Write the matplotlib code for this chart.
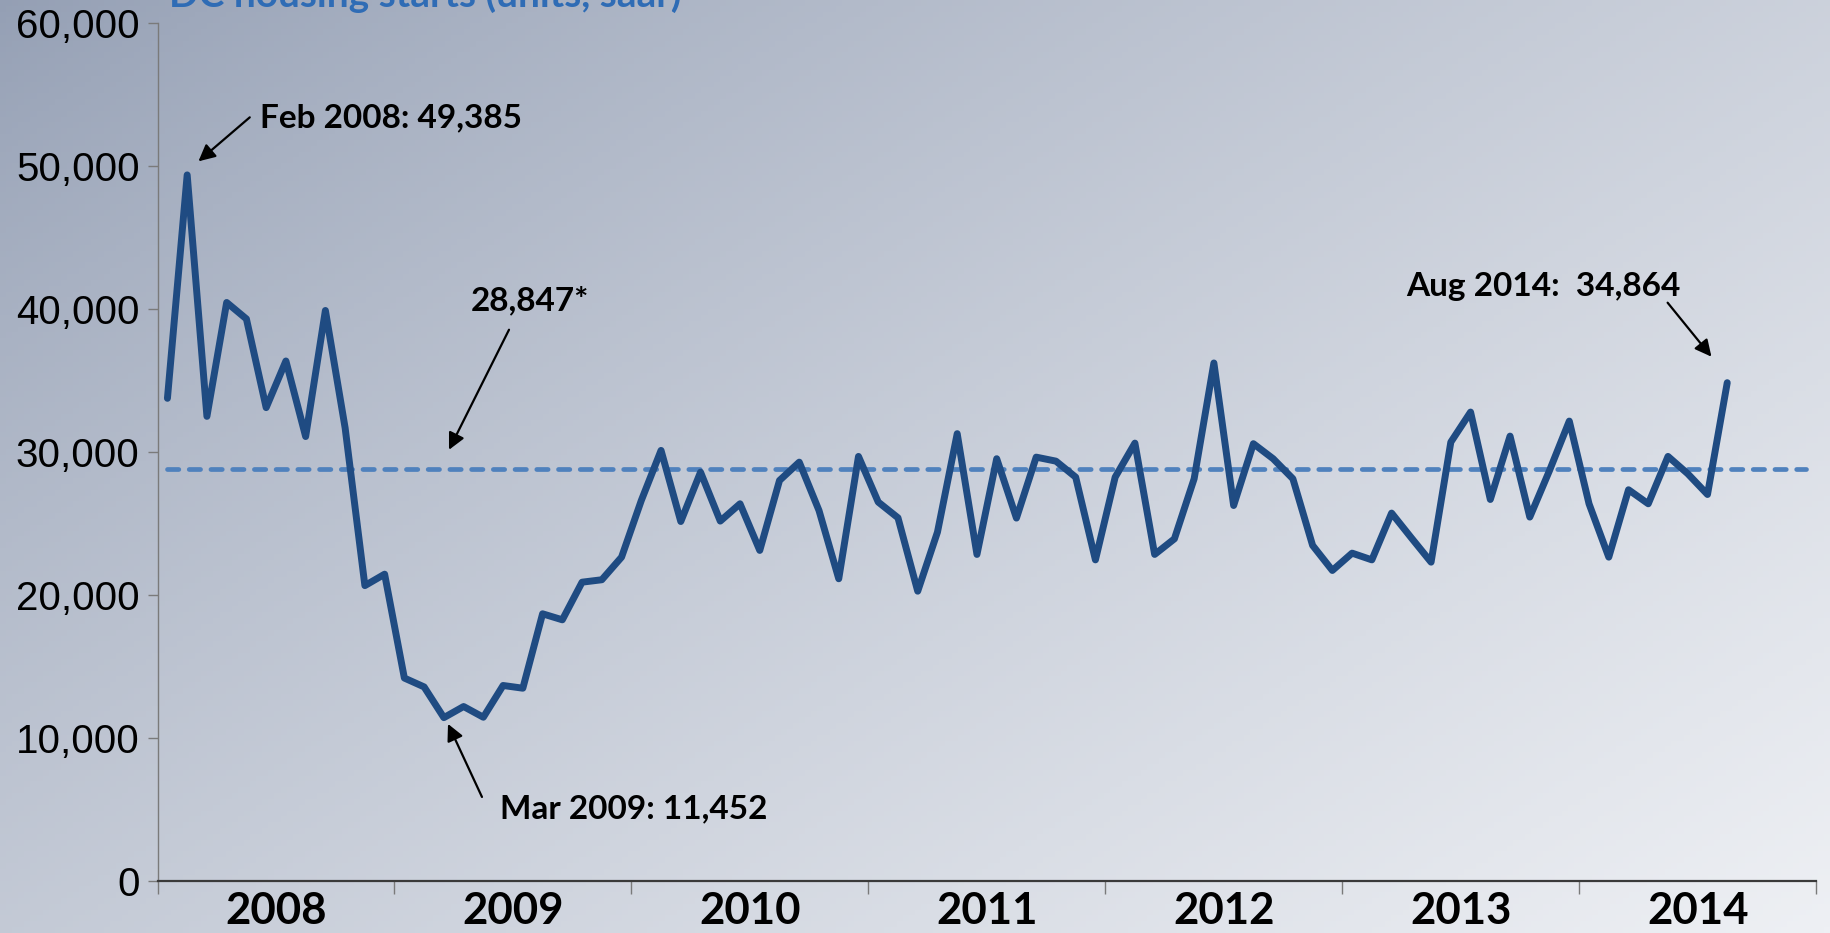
import matplotlib
matplotlib.use("Agg")
import matplotlib.pyplot as plt
import matplotlib.ticker as mticker
import numpy as np

# ── data ────────────────────────────────────────────────
years = ["2008", "2009", "2010", "2011", "2012", "2013", "2014"]

# DC housing starts, monthly Jan 2008 - Aug 2014 (units, saar)
starts = [
    33770, 49385, 32510, 40470, 39320, 33120, 36380, 31100, 39910, 31700, 20680, 21480,  # 2008
    14220, 13600, 11452, 12230, 11480, 13700, 13510, 18710, 18290, 20920, 21090, 22670,  # 2009
    26630, 30130, 25160, 28610, 25190, 26400, 23140, 28030, 29310, 25930, 21160, 29710,  # 2010
    26520, 25420, 20290, 24420, 31300, 22860, 29550, 25400, 29660, 29380, 28260, 22480,  # 2011
    28260, 30640, 22860, 23950, 28150, 36240, 26280, 30600, 29550, 28150, 23490, 21740,  # 2012
    22950, 22480, 25750, 24020, 22320, 30710, 32810, 26700, 31130, 25470, 28730, 32180,  # 2013
    26400, 22670, 27380, 26400, 29710, 28500, 27050, 34864,                              # 2014
]
avg_level = 28847
n_slots = 12 * len(years)   # category slots, Jan 2008 - Dec 2014

yticks = [0, 10000, 20000, 30000, 40000, 50000, 60000]

LINE_COLOR = "#1F4B82"
AVG_COLOR = "#4F81BD"
TITLE_COLOR = "#2F6CB5"

# ── figure + gradient background ──────────────────────────
fig = plt.figure(figsize=(18.3, 9.33), dpi=100)

bg = fig.add_axes([0, 0, 1, 1], zorder=0)
gx, gy = np.meshgrid(np.linspace(0, 1, 300), np.linspace(0, 1, 160))
t = np.clip(0.55 * gx + 0.45 * gy, 0, 1) ** 0.8
c0 = np.array([148, 159, 180]) / 255
c1 = np.array([238, 240, 244]) / 255
img = c0[None, None, :] * (1 - t[..., None]) + c1[None, None, :] * t[..., None]
bg.imshow(img, aspect="auto", extent=[0, 1, 0, 1], origin="upper")
bg.set_axis_off()

ax = fig.add_axes([0.0861, 0.0552, 0.9063, 0.9201], zorder=1)
ax.patch.set_alpha(0)

x = np.arange(len(starts))
ax.plot(np.arange(n_slots), [avg_level] * n_slots, color=AVG_COLOR, lw=3.4,
        dashes=(2.4, 2.2), dash_capstyle="round", zorder=2)
ax.plot(x, starts, color=LINE_COLOR, lw=5, solid_joinstyle="round",
        solid_capstyle="round", zorder=3)

ax.set_xlim(-0.5, n_slots - 0.5)
ax.set_ylim(0, 60000)

# axes styling
for s in ("top", "right"):
    ax.spines[s].set_visible(False)
ax.spines["left"].set_color("#7a7a7a")
ax.spines["left"].set_linewidth(1.0)
ax.spines["bottom"].set_color("#3a3a3a")
ax.spines["bottom"].set_linewidth(1.6)

ax.set_yticks(yticks)
ax.yaxis.set_major_formatter(mticker.FuncFormatter(lambda v, p: f"{int(v):,}"))
ax.tick_params(axis="y", length=7, width=1, color="#7a7a7a", pad=6,
               labelsize=29, labelcolor="black")
for lbl in ax.get_yticklabels():
    lbl.set_fontfamily("Liberation Sans")

ax.set_xticks(np.arange(-0.5, n_slots, 12))
ax.set_xticklabels([])
ax.set_xticks(np.arange(5.5, n_slots, 12), minor=True)
ax.set_xticklabels(years, minor=True)
ax.tick_params(axis="x", which="major", length=9, width=1, color="#7a7a7a")
ax.tick_params(axis="x", which="minor", length=0, pad=7, labelsize=31.5)
for lbl in ax.get_xticklabels(minor=True):
    lbl.set_fontfamily("Lato")
    lbl.set_fontweight("bold")

# ── annotations ──────────────────────────────────────────
ann_font = dict(fontfamily="Lato", fontweight="bold", fontsize=24, color="black")
arrow = dict(arrowstyle="-|>,head_length=1.0,head_width=0.5", color="black",
             lw=1.6, shrinkA=0, shrinkB=0)

ax.text(4.69, 52690, f"Feb 2008: {starts[1]:,}", ha="left", va="baseline", **ann_font)
ax.annotate("", xy=(1.57, 50335), xytext=(4.17, 53410), arrowprops=arrow)

ax.text(15.37, 39895, f"{avg_level:,}*", ha="left", va="baseline", **ann_font)
ax.annotate("", xy=(14.26, 30174), xytext=(17.30, 38566), arrowprops=arrow)

ax.text(16.84, 4441, f"Mar 2009: {starts[14]:,}", ha="left", va="baseline", **ann_font)
ax.annotate("", xy=(14.21, 11014), xytext=(15.93, 5909), arrowprops=arrow)

ax.text(62.76, 40945, f"Aug 2014:  {starts[-1]:,}", ha="left", va="baseline", **ann_font)
ax.annotate("", xy=(78.2, 36679), xytext=(75.98, 40455), arrowprops=arrow)

# title, cut at the top edge as in the source slide
fig.text(169 / 1830, 1 - 7 / 933, "DC housing starts (units, saar)", ha="left",
         va="baseline", fontfamily="Lato", fontweight="bold", fontsize=28,
         color=TITLE_COLOR, zorder=5)

fig.savefig("out.png", dpi=100)
